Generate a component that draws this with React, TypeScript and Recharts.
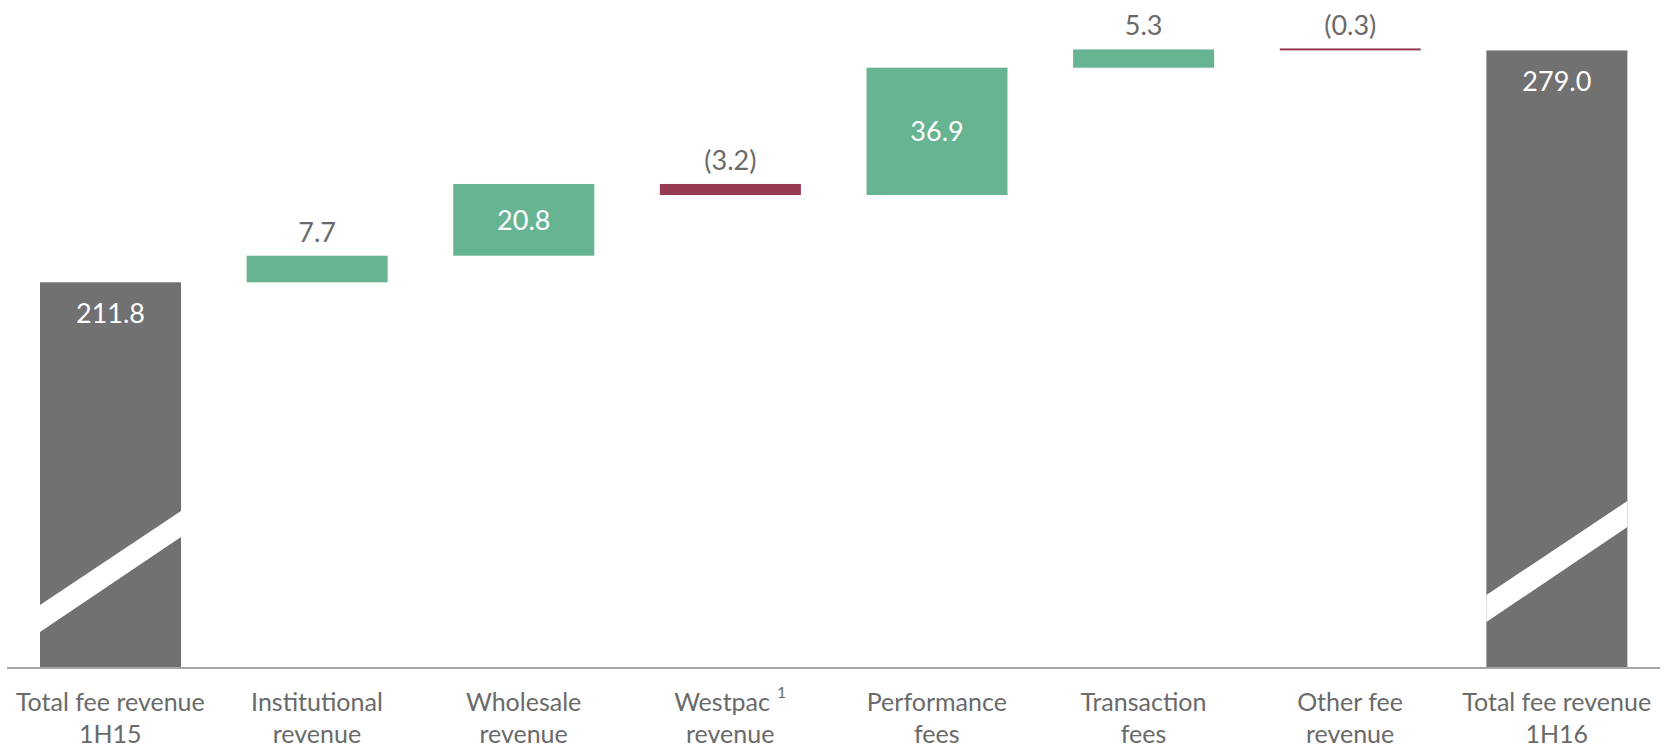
import React from 'react';
import { BarChart, Bar, XAxis, YAxis, LabelList } from 'recharts';

// categories, each split into two label lines
const categoryLine1 = [
  'Total fee revenue',
  'Institutional',
  'Wholesale',
  'Westpac',
  'Performance',
  'Transaction',
  'Other fee',
  'Total fee revenue',
];
const categoryLine2 = ['1H15', 'revenue', 'revenue', 'revenue', 'fees', 'fees', 'revenue', '1H16'];
const footnotes = ['', '', '', '1', '', '', '', ''];

// movement per category, totals are the absolute value
const values = [211.8, 7.7, 20.8, -3.2, 36.9, 5.3, -0.3, 279.0];
const kinds = ['total', 'delta', 'delta', 'delta', 'delta', 'delta', 'delta', 'total'];

const AXIS_MIN = 100;
const AXIS_MAX = 280;

const GREY = '#717171';
const GREEN = '#67b493';
const RED = '#963b51';
const TEXT = '#6a6a6a';
const FONT = 'Lato, "Open Sans", sans-serif';

// build the floating ranges for the waterfall
let running = 0;
const data = values.map((v, i) => {
  let range: [number, number];
  if (kinds[i] === 'total') {
    range = [AXIS_MIN, v];
    running = v;
  } else {
    const start = running;
    running = running + v;
    range = [Math.min(start, running), Math.max(start, running)];
  }
  return { name: categoryLine1[i] + ' ' + categoryLine2[i], range, index: i };
});

const barColor = (i: number) => {
  if (kinds[i] === 'total') return GREY;
  return values[i] < 0 ? RED : GREEN;
};

const fmt = (v: number) => (v < 0 ? `(${Math.abs(v).toFixed(1)})` : v.toFixed(1));

function WaterfallShape(props: any) {
  const { x, y, width, height, index } = props;
  const bottom = y + height;
  const color = barColor(index);
  const h = Math.max(height, 2);
  const yy = height < 2 ? y - 1 : y;
  let stripe = null;
  if (kinds[index] === 'total') {
    // axis break: white diagonal band near the base
    const lift = index === 0 ? 63 : 73;
    const pts = [
      [x, bottom - lift],
      [x + width, bottom - lift - 94],
      [x + width, bottom - lift - 68],
      [x, bottom - lift + 27],
    ]
      .map((p) => p.join(','))
      .join(' ');
    stripe = <polygon points={pts} fill="#ffffff" />;
  }
  return (
    <g>
      <rect x={x} y={yy} width={width} height={h} fill={color} />
      {stripe}
    </g>
  );
}

function ValueLabel(props: any) {
  const { x, y, width, height, index } = props;
  const cx = x + width / 2;
  const v = values[index];
  if (kinds[index] === 'total') {
    return (
      <text x={cx} y={y + 41} textAnchor="middle" fill="#ffffff" fontSize={27} fontFamily={FONT}>
        {fmt(v)}
      </text>
    );
  }
  if (height > 50) {
    return (
      <text x={cx} y={y + height / 2 + 10} textAnchor="middle" fill="#ffffff" fontSize={27} fontFamily={FONT}>
        {fmt(v)}
      </text>
    );
  }
  return (
    <text x={cx} y={y - 14} textAnchor="middle" fill={TEXT} fontSize={27} fontFamily={FONT}>
      {fmt(v)}
    </text>
  );
}

function CategoryTick(props: any) {
  const { x, y, payload } = props;
  const i = payload.index;
  return (
    <g>
      <text x={x} y={y + 35} textAnchor="middle" fill={TEXT} fontSize={25} fontFamily={FONT}>
        {categoryLine1[i]}
        {footnotes[i] ? (
          <tspan dx={7} dy={-13} fontSize={16}>
            {footnotes[i]}
          </tspan>
        ) : null}
      </text>
      <text x={x} y={y + 67} textAnchor="middle" fill={TEXT} fontSize={25} fontFamily={FONT}>
        {categoryLine2[i]}
      </text>
    </g>
  );
}

export default function App() {
  return (
    <div style={{ position: 'absolute', left: 0, top: 0, width: 1668, height: 748, background: '#ffffff' }}>
      <BarChart
        width={1668}
        height={748}
        data={data}
        margin={{ top: 47, right: 8, bottom: 0, left: 7 }}
        barSize={141}
      >
        <XAxis
          dataKey="name"
          height={80}
          interval={0}
          tickLine={false}
          axisLine={{ stroke: '#a6a6a6', strokeWidth: 2 }}
          tick={<CategoryTick />}
        />
        <YAxis hide domain={[AXIS_MIN, AXIS_MAX]} allowDataOverflow />
        <Bar dataKey="range" shape={<WaterfallShape />} isAnimationActive={false}>
          <LabelList dataKey="range" content={<ValueLabel />} />
        </Bar>
      </BarChart>
    </div>
  );
}
